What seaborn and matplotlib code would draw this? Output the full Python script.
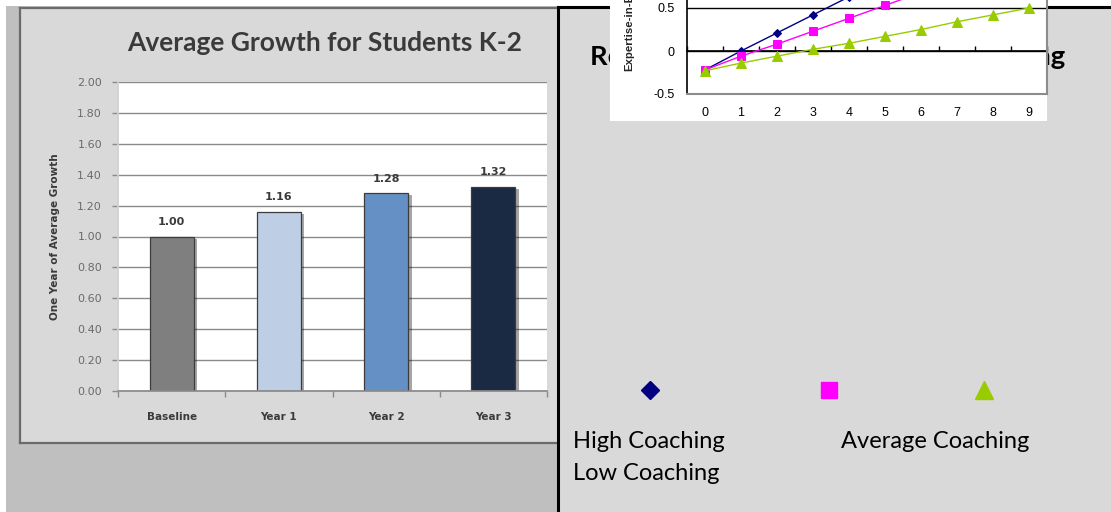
import numpy as np
import matplotlib
matplotlib.use("Agg")
import matplotlib.pyplot as plt
import matplotlib.patheffects as pe
from matplotlib.patches import Rectangle
import seaborn as sns

# bar chart data
categories = ["Baseline", "Year 1", "Year 2", "Year 3"]
growth = [1.00, 1.16, 1.28, 1.32]
bar_colors = ["#7f7f7f", "#b6cdec", "#558ed5", "#14284a"]
growth_ticks = [0.0, 0.2, 0.4, 0.6, 0.8, 1.0, 1.2, 1.4, 1.6, 1.8, 2.0]

# expertise chart data
cycles = [0, 1, 2, 3, 4, 5, 6, 7, 8, 9]
high_coaching = [-0.22, 0.00, 0.21, 0.42, 0.63, 0.84, 1.05, 1.26, 1.47, 1.68]
average_coaching = [-0.22, -0.06, 0.08, 0.23, 0.38, 0.53, 0.68, 0.83, 0.98, 1.13]
low_coaching = [-0.23, -0.14, -0.06, 0.02, 0.09, 0.17, 0.25, 0.34, 0.42, 0.50]
series_names = ["High Coaching", "Average Coaching", "Low Coaching"]
series_colors = ["#000080", "#ff00ff", "#99cc00"]
series_markers = ["D", "s", "^"]
expertise_ticks = [-0.5, 0.0, 0.5, 1.0, 1.5, 2.0]
expertise_labels = ["-0.5", "0", "0.5", "1", "1.5", "2"]

slide_title = "Relationship of Expertise and Coaching"

W, H = 1111, 512


def box(left, top, right, bottom):
    # pixel box -> figure fraction [x, y, w, h]
    return [left / W, 1 - bottom / H, (right - left) / W, (bottom - top) / H]


sns.set_theme(style="white")
plt.rcParams["font.family"] = ["DejaVu Sans"]

fig = plt.figure(figsize=(W / 100, H / 100), dpi=100, facecolor="white")

# outer grey of the left picture
fig.patches.append(Rectangle((6 / W, 0), 560 / W, 1 - 6 / H, transform=fig.transFigure,
                             facecolor="#bfbfbf", edgecolor="none", zorder=-5))

# left chart frame
panel = fig.add_axes(box(20, 8, 570, 443))
panel.set_zorder(0)
panel.set_facecolor("#d9d9d9")
panel.set_xticks([])
panel.set_yticks([])
for s in panel.spines.values():
    s.set_color("#6b6b6b")
    s.set_linewidth(1.6)
panel.text(305 / 550, 1 - 35 / 435, "Average Growth for Students K-2", transform=panel.transAxes,
           ha="center", va="center", fontsize=19, fontweight="bold", family="Lato", color="#3a3a3a")

# bar chart
ax = fig.add_axes(box(118, 82, 547, 391))
ax.set_zorder(1)
ax.set_facecolor("white")
sns.barplot(x=categories, y=growth, hue=categories, palette=bar_colors, width=0.41,
            edgecolor="#3c3c3c", linewidth=0.9, legend=False, ax=ax)
for cont in ax.containers:
    for bar in cont:
        bar.set_path_effects([pe.SimplePatchShadow(offset=(2.5, -1.5), alpha=0.35, shadow_rgbFace="black"),
                              pe.Normal()])
    ax.bar_label(cont, fmt="%.2f", padding=7, fontsize=8, fontweight="bold", color="#3a3a3a")
ax.set_ylim(0, 2.0)
ax.set_xlim(-0.5, len(categories) - 0.5)
ax.set_yticks(growth_ticks)
ax.set_yticklabels([f"{t:.2f}" for t in growth_ticks])
ax.set_xticks(range(len(categories)))
ax.set_xticks(np.arange(len(categories) + 1) - 0.5, minor=True)
ax.grid(axis="y", color="#8a8a8a", linewidth=1)
ax.set_axisbelow(True)
ax.tick_params(axis="y", which="major", length=4.5, color="#8a8a8a", width=1, pad=7,
               labelsize=8, labelcolor="#6a6a6a", left=True)
ax.tick_params(axis="x", which="major", length=0, pad=15, labelsize=7.5, labelcolor="#3a3a3a")
ax.tick_params(axis="x", which="minor", length=4, color="#8a8a8a", width=1, bottom=True)
for lbl in ax.get_xticklabels():
    lbl.set_fontweight("bold")
for side in ["top", "right"]:
    ax.spines[side].set_visible(False)
ax.spines["left"].set_color("#d0d0d0")
ax.spines["bottom"].set_color("#8a8a8a")
ax.set_xlabel("")
ax.set_ylabel("One Year of Average Growth", fontsize=7.5, fontweight="bold", color="#3a3a3a",
              va="center")
ax.yaxis.set_label_coords(-0.147, 0.5)

# right slide area
right = fig.add_axes(box(558, 7, 1111, 512))
right.set_zorder(2)
right.set_facecolor("#d9d9d9")
right.set_xlim(558, 1111)
right.set_ylim(512, 7)
right.set_xticks([])
right.set_yticks([])
for side in ["right", "bottom"]:
    right.spines[side].set_visible(False)
for side in ["left", "top"]:
    right.spines[side].set_color("black")
    right.spines[side].set_linewidth(2.2)
title = right.text(590, 57, slide_title, ha="left", va="center",
                   fontsize=20, fontweight="bold", family="Lato", color="black", zorder=3)
# the slide title runs from x=590 to about x=1065 behind the pasted chart
fig.canvas.draw()
tw = title.get_window_extent().width
title.set_fontsize(20 * 477 / tw)
right.add_patch(Rectangle((610, -10), 437, 131, facecolor="white", edgecolor="none",
                          clip_on=False, zorder=6))

# legend keys and names, laid out as in the slide
key_x = [650, 829, 984]
key_size = [9.5, 11.5, 13]
for name, col, mk, kx, ks in zip(series_names, series_colors, series_markers, key_x, key_size):
    right.plot([kx], [390], marker=mk, color=col, markersize=ks, linestyle="none")
name_pos = [(573, 441), (841, 441), (573, 474)]
for name, (tx, ty) in zip(series_names, name_pos):
    right.text(tx, ty, name, ha="left", va="center", fontsize=17, family="Lato", color="black")

# expertise line chart (inset)
ax2 = fig.add_axes(box(687, -121, 1047, 94))
ax2.set_zorder(5)
ax2.set_facecolor("white")
for vals, col, mk, ms in zip([high_coaching, average_coaching, low_coaching],
                             series_colors, series_markers, [4.2, 5.2, 6.5]):
    sns.lineplot(x=cycles, y=vals, color=col, marker=mk, markersize=ms, markeredgecolor=col,
                 linewidth=1, ax=ax2)
ax2.set_xlim(-0.5, len(cycles) - 0.5)
ax2.set_ylim(-0.5, 2.0)
ax2.set_yticks(expertise_ticks)
ax2.set_yticklabels(expertise_labels)
ax2.set_xticks(cycles)
ax2.set_xticklabels([str(c) for c in cycles])
ax2.tick_params(axis="both", length=0, labelsize=9, labelcolor="black")
ax2.tick_params(axis="y", pad=9)
ax2.tick_params(axis="x", pad=9)
for lbl in ax2.get_xticklabels() + ax2.get_yticklabels():
    lbl.set_family("Liberation Sans")
ax2.grid(axis="y", color="black", linewidth=1)
ax2.set_axisbelow(True)
ax2.spines["top"].set_visible(False)
ax2.spines["left"].set_color("black")
ax2.spines["left"].set_linewidth(1.2)
for side in ["right", "bottom"]:
    ax2.spines[side].set_color("#8c8c8c")
    ax2.spines[side].set_linewidth(1.5)
zero_at = (0 - ax2.get_ylim()[0]) / (ax2.get_ylim()[1] - ax2.get_ylim()[0])
sec = ax2.secondary_xaxis(zero_at)
sec.set_xticks(np.arange(len(cycles) + 1) - 0.5)
sec.tick_params(direction="in", length=3.5, width=1, color="black", labelbottom=False, labeltop=False)
sec.spines["bottom"].set_color("black")
sec.spines["bottom"].set_linewidth(1.2)
ax2.set_xlabel("")
ax2.set_ylabel("Expertise-in-E", fontsize=8.2, fontweight="bold", family="Liberation Sans",
               ha="left", va="center")
ax2.yaxis.set_label_coords((629 - 687) / 360, (94 - 71) / 215)

fig.savefig("out.png", dpi=100)
